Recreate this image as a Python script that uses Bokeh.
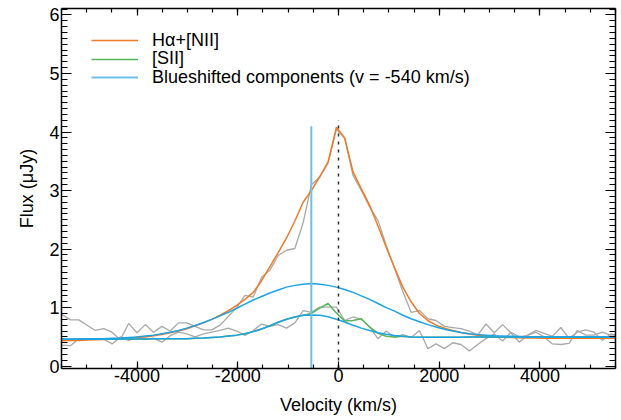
from bokeh.plotting import figure
from bokeh.models import (LinearAxis, SingleIntervalTicker, Legend, LegendItem,
                          Range1d, CustomJSTickFormatter)
from bokeh.embed import file_html
from bokeh.resources import INLINE

# ---------------- data ----------------
velocity = [-5652, -5487, -5322, -5157, -4992, -4827, -4662, -4497, -4332, -4167,
            -4002, -3837, -3672, -3507, -3342, -3177, -3012, -2847, -2682, -2517,
            -2352, -2187, -2022, -1857, -1692, -1527, -1362, -1197, -1032, -867,
            -702, -537, -372, -207, -42, 123, 288, 453, 618, 783,
            948, 1113, 1278, 1443, 1608, 1773, 1938, 2103, 2268, 2433,
            2598, 2763, 2928, 3093, 3258, 3423, 3588, 3753, 3918, 4083,
            4248, 4413, 4578, 4743, 4908, 5073, 5238, 5403, 5568]

halpha_data = [0.95, 0.88, 0.79, 0.79, 0.70, 0.61, 0.64, 0.58, 0.45, 0.73,
               0.57, 0.71, 0.58, 0.68, 0.60, 0.74, 0.74, 0.68, 0.62, 0.62,
               0.70, 0.85, 1.00, 1.21, 1.18, 1.52, 1.64, 1.89, 1.98, 2.01,
               2.45, 3.10, 3.23, 3.47, 4.05, 3.89, 3.26, 3.00, 2.72, 2.49,
               2.06, 1.67, 1.27, 0.92, 0.95, 0.81, 0.78, 0.68, 0.66, 0.64,
               0.60, 0.53, 0.72, 0.57, 0.71, 0.57, 0.41, 0.53, 0.61, 0.56,
               0.51, 0.66, 0.48, 0.58, 0.62, 0.58, 0.44, 0.55, 0.51]

sii_data = [0.36, 0.36, 0.35, 0.47, 0.47, 0.47, 0.46, 0.38, 0.50, 0.44,
            0.50, 0.46, 0.48, 0.41, 0.52, 0.58, 0.55, 0.50, 0.55, 0.58,
            0.61, 0.65, 0.60, 0.525, 0.61, 0.72, 0.68, 0.71, 0.65, 0.74,
            0.95, 0.92, 1.01, 1.01, 1.01, 0.78, 0.84, 0.80, 0.67, 0.47,
            0.60, 0.49, 0.54, 0.49, 0.61, 0.30, 0.38, 0.30, 0.40, 0.37,
            0.26, 0.37, 0.47, 0.55, 0.43, 0.58, 0.50, 0.525, 0.58, 0.50,
            0.38, 0.37, 0.39, 0.61, 0.53, 0.53, 0.58, 0.53, 0.55]

halpha_fit = [0.435, 0.435, 0.44, 0.44, 0.445, 0.45, 0.455, 0.46, 0.47, 0.48,
              0.49, 0.50, 0.52, 0.54, 0.57, 0.60, 0.64, 0.69, 0.74, 0.80,
              0.87, 0.95, 1.04, 1.14, 1.26, 1.46, 1.70, 1.94, 2.19, 2.48,
              2.80, 3.00, 3.24, 3.49, 4.08, 3.90, 3.32, 3.03, 2.75, 2.40,
              2.03, 1.68, 1.35, 1.10, 0.90, 0.78, 0.70, 0.65, 0.61, 0.575,
              0.55, 0.53, 0.515, 0.50, 0.495, 0.49, 0.485, 0.48, 0.48, 0.478,
              0.477, 0.476, 0.475, 0.475, 0.475, 0.475, 0.475, 0.475, 0.475]

sii_fit = [0.46, 0.46, 0.46, 0.46, 0.46, 0.46, 0.46, 0.46, 0.465, 0.465,
           0.465, 0.465, 0.47, 0.47, 0.47, 0.47, 0.47, 0.475, 0.48, 0.49,
           0.50, 0.515, 0.53, 0.555, 0.59, 0.635, 0.69, 0.75, 0.80, 0.84,
           0.87, 0.90, 0.99, 1.07, 0.91, 0.77, 0.78, 0.81, 0.67, 0.56,
           0.51, 0.50, 0.51, 0.50, 0.495, 0.495, 0.495, 0.495, 0.495, 0.495,
           0.50, 0.50, 0.50, 0.50, 0.50, 0.50, 0.50, 0.50, 0.50, 0.50,
           0.50, 0.50, 0.50, 0.50, 0.50, 0.50, 0.50, 0.50, 0.50]

blue_halpha = [0.46, 0.46, 0.46, 0.465, 0.465, 0.47, 0.47, 0.475, 0.48, 0.49,
               0.50, 0.515, 0.53, 0.555, 0.58, 0.61, 0.65, 0.695, 0.745, 0.80,
               0.86, 0.92, 0.99, 1.06, 1.13, 1.19, 1.25, 1.30, 1.35, 1.38,
               1.40, 1.41, 1.40, 1.38, 1.35, 1.31, 1.26, 1.20, 1.14, 1.07,
               1.00, 0.94, 0.87, 0.81, 0.76, 0.71, 0.67, 0.63, 0.60, 0.575,
               0.555, 0.54, 0.53, 0.52, 0.515, 0.51, 0.505, 0.50, 0.50, 0.50,
               0.50, 0.50, 0.50, 0.50, 0.50, 0.50, 0.50, 0.50, 0.50]

blue_sii = [0.46, 0.46, 0.46, 0.46, 0.46, 0.46, 0.46, 0.46, 0.465, 0.465,
            0.465, 0.465, 0.47, 0.47, 0.47, 0.47, 0.47, 0.475, 0.48, 0.49,
            0.50, 0.515, 0.53, 0.555, 0.59, 0.635, 0.69, 0.75, 0.80, 0.84,
            0.87, 0.875, 0.87, 0.845, 0.80, 0.755, 0.70, 0.65, 0.61, 0.57,
            0.545, 0.525, 0.51, 0.50, 0.495, 0.495, 0.495, 0.495, 0.495, 0.495,
            0.50, 0.50, 0.50, 0.50, 0.50, 0.50, 0.50, 0.50, 0.50, 0.50,
            0.50, 0.50, 0.50, 0.50, 0.50, 0.50, 0.50, 0.50, 0.50]

blueshift_velocity = [-540]
blueshift_top = [4.1]
systemic_velocity = [0]
systemic_top = [4.2]

x_limits = (-5500, 5500)
y_limits = (-0.04, 6.11)

labels = ["H\u03b1+[NII]", "[SII]", "Blueshifted components (v = -540 km/s)"]

# ---------------- figure ----------------
FONT = "Liberation Sans"
FS = "18px"

p = figure(width=621, height=420,
           x_range=Range1d(*x_limits), y_range=Range1d(*y_limits),
           output_backend="svg", toolbar_location=None,
           x_axis_type=None, y_axis_type=None,
           min_border_left=61, min_border_right=6,
           min_border_top=8, min_border_bottom=52)
p.outline_line_color = None
p.background_fill_color = "white"
p.border_fill_color = "white"

plain_numbers = CustomJSTickFormatter(code="return tick.toFixed(0)")


def style_axis(ax, tick_in, minor_in, show_labels):
    ax.major_tick_in = tick_in
    ax.major_tick_out = 0
    ax.minor_tick_in = minor_in
    ax.minor_tick_out = 0
    ax.axis_line_color = "black"
    ax.axis_line_width = 1.5
    ax.major_tick_line_color = "black"
    ax.major_tick_line_width = 1.2
    ax.minor_tick_line_color = "black"
    ax.minor_tick_line_width = 1.2
    if show_labels:
        ax.formatter = plain_numbers
        ax.major_label_text_font = FONT
        ax.major_label_text_font_size = FS
        ax.major_label_text_color = "black"
        ax.axis_label_text_font = FONT
        ax.axis_label_text_font_size = FS
        ax.axis_label_text_font_style = "normal"
        ax.axis_label_text_color = "black"
    else:
        ax.formatter = CustomJSTickFormatter(code="return ''")
        ax.major_label_text_font_size = "0px"
        ax.major_label_standoff = 0


xb = LinearAxis(ticker=SingleIntervalTicker(interval=2000, num_minor_ticks=4),
                axis_label="Velocity (km/s)")
style_axis(xb, 7, 4, True)
xb.major_label_standoff = 0
xb.axis_label_standoff = 10
p.add_layout(xb, "below")

xt = LinearAxis(ticker=SingleIntervalTicker(interval=2000, num_minor_ticks=4))
style_axis(xt, 7, 4, False)
p.add_layout(xt, "above")

yl = LinearAxis(ticker=SingleIntervalTicker(interval=1, num_minor_ticks=10),
                axis_label="Flux (\u03bcJy)")
style_axis(yl, 10, 6, True)
yl.major_label_standoff = 2
yl.axis_label_standoff = 9
p.add_layout(yl, "left")

yr = LinearAxis(ticker=SingleIntervalTicker(interval=1, num_minor_ticks=10))
style_axis(yr, 10, 6, False)
p.add_layout(yr, "right")

GRAY = "#a9a9a9"
ORANGE = "#f27a26"
GREEN = "#5ab45a"
BLUE = "#1ea3e2"
LIGHTBLUE = "#6cc1ea"

p.line(velocity, halpha_data, line_color=GRAY, line_width=1.3)
p.line(velocity, sii_data, line_color=GRAY, line_width=1.3)
r_orange = p.line(velocity, halpha_fit, line_color=ORANGE, line_width=1.5)
r_green = p.line(velocity, sii_fit, line_color=GREEN, line_width=1.5)
p.line(velocity, blue_halpha, line_color=BLUE, line_width=1.5)
p.line(velocity, blue_sii, line_color=BLUE, line_width=1.5)

r_vline = p.segment(x0=blueshift_velocity, y0=[y_limits[0]] * len(blueshift_velocity),
                    x1=blueshift_velocity, y1=blueshift_top,
                    line_color=LIGHTBLUE, line_width=2)
p.segment(x0=systemic_velocity, y0=[y_limits[0]] * len(systemic_velocity),
          x1=systemic_velocity, y1=systemic_top,
          line_color="#333333", line_width=1.5, line_dash="3 5")

# one single-item legend per row so the row pitch matches the reference
legend_rows = [(labels[0], r_orange, 317.5), (labels[1], r_green, 298.8),
               (labels[2], r_vline, 280.2)]
for text, rend, ybottom in legend_rows:
    lg = Legend(items=[LegendItem(label=text, renderers=[rend])],
                location=(30, ybottom), orientation="vertical",
                border_line_color=None, background_fill_alpha=0,
                padding=0, margin=0, spacing=0,
                glyph_width=47, glyph_height=10, label_height=10,
                label_standoff=14,
                label_text_font=FONT, label_text_font_size=FS,
                label_text_color="black")
    p.add_layout(lg)

open("out.html", "w").write(file_html(p, INLINE))
